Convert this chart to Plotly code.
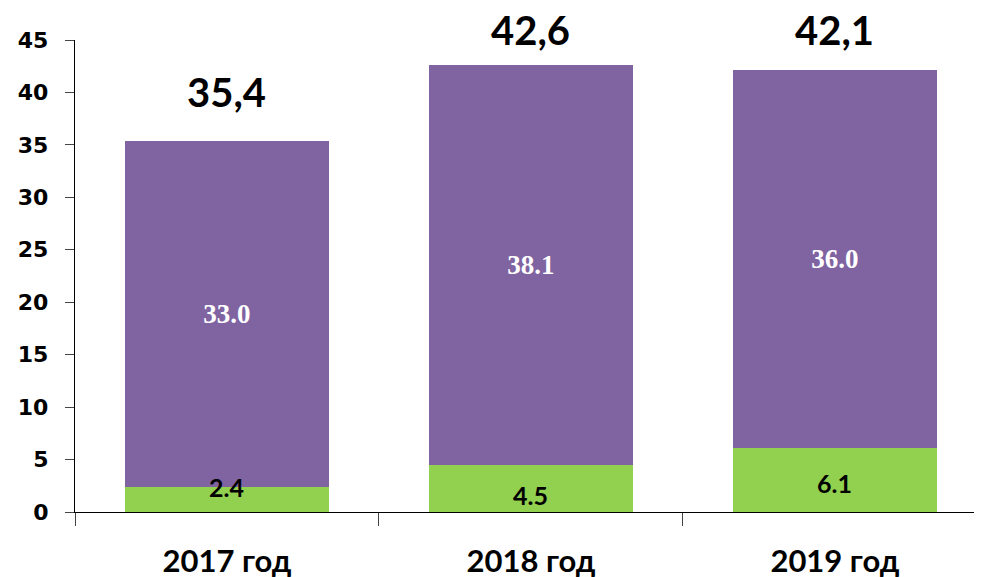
import plotly.graph_objects as go

years = ['2017 год', '2018 год', '2019 год']
green_vals = [2.4, 4.5, 6.1]
purple_vals = [33.0, 38.1, 36.0]
totals = ['35,4', '42,6', '42,1']
y_ticks = [0, 5, 10, 15, 20, 25, 30, 35, 40, 45]

xs = list(range(len(years)))
tot_vals = [g + p for g, p in zip(green_vals, purple_vals)]

fig = go.Figure()
fig.add_trace(go.Bar(
    x=xs, y=green_vals, marker=dict(color='#92D050', line=dict(width=0)),
    width=0.67, showlegend=False, hoverinfo='skip'))
fig.add_trace(go.Bar(
    x=xs, y=purple_vals, marker=dict(color='#8064A2', line=dict(width=0)),
    width=0.67, text=[f'{v:.1f}' for v in purple_vals],
    textposition='inside', insidetextanchor='middle', constraintext='none',
    textfont=dict(family='Liberation Serif', size=27, color='white', weight='bold'),
    showlegend=False, hoverinfo='skip'))

# green labels: excel nudged them a bit, not exactly centred
green_nudge = [12, -7, -3]
for x, v, n in zip(xs, green_vals, green_nudge):
    fig.add_annotation(x=x, y=v / 2, text=f'{v:.1f}', showarrow=False, yshift=n,
                       font=dict(family='Lato', size=25, color='black', weight='bold'))

# totals above bars, kept inside the top of the plot like excel does
for x, t, v in zip(xs, totals, tot_vals):
    fig.add_annotation(x=x, y=min(v + 3.2, 44.5), text=t, showarrow=False,
                       yanchor='bottom', yshift=-11,
                       font=dict(family='Lato', size=40, color='black', weight='bold'))

# page has 8px body margin, so the figure is shifted by 8px
fig.update_layout(
    barmode='stack', width=974, height=569,
    margin=dict(l=67, r=0, t=32, b=65),
    plot_bgcolor='white', paper_bgcolor='white',
    xaxis=dict(range=[-0.5, 2.484], tickmode='array', tickvals=xs, ticktext=years,
               ticks='', showgrid=False, zeroline=False, automargin=False,
               showline=True, linecolor='black', linewidth=1.3,
               ticklabelstandoff=22,
               tickfont=dict(family='Lato', size=31, color='black', weight='bold'),
               minor=dict(tickmode='array', tickvals=[-0.5, 0.5, 1.5], ticks='outside',
                          ticklen=13, tickcolor='#444', tickwidth=1.3)),
    yaxis=dict(range=[0, 45], tickmode='array', tickvals=y_ticks, automargin=False,
               ticks='outside', ticklen=9, tickcolor='#444', tickwidth=1.3,
               showgrid=False, zeroline=False, showline=True, linecolor='black', linewidth=1.3,
               ticklabelstandoff=12,
               tickfont=dict(family='DejaVu Sans', size=22, color='black', weight='bold')),
)

fig.write_html('out.html')
